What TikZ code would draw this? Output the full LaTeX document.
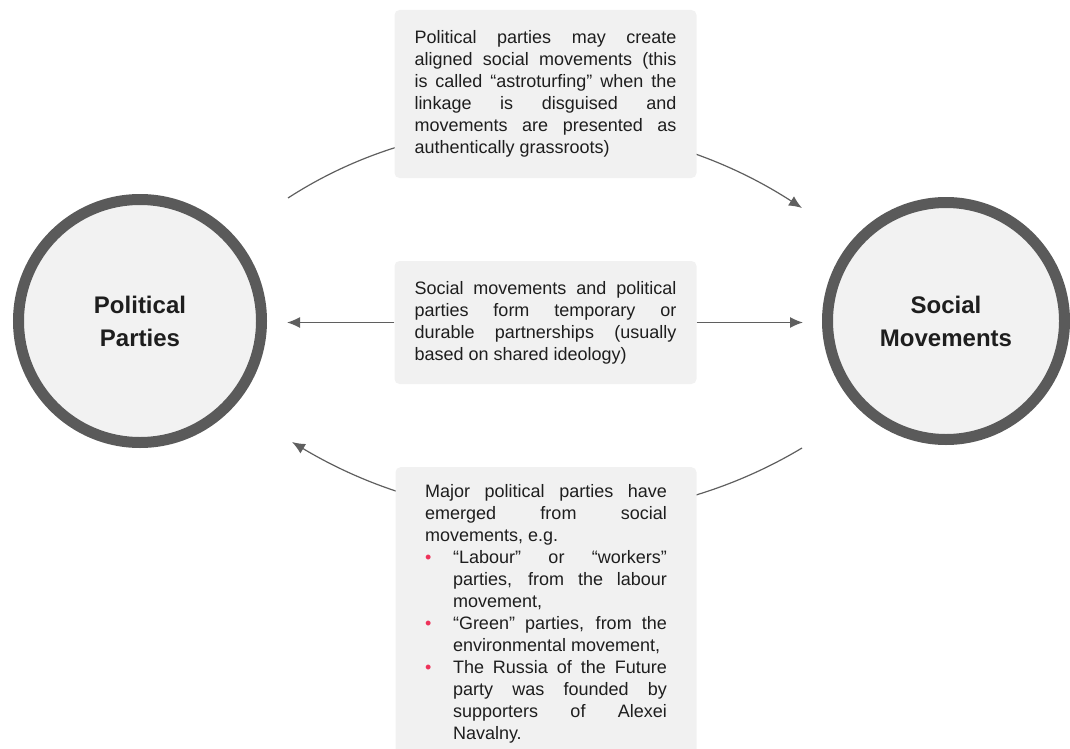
\documentclass[tikz,border=0pt]{standalone}
\usepackage{fontspec}
\setmainfont{Liberation Sans}
\usetikzlibrary{arrows.meta}
\definecolor{boxfill}{RGB}{241,241,241}
\definecolor{ringfill}{RGB}{242,242,242}
\definecolor{ringgray}{RGB}{90,90,90}
\definecolor{linegray}{RGB}{95,95,95}
\definecolor{textdark}{RGB}{30,30,30}
\definecolor{bulletred}{RGB}{238,50,90}
\newcommand{\dotitem}{\par\noindent\hangindent=28pt\hangafter=1\makebox[28pt][l]{\textcolor{bulletred}{\textbullet}}}
\tikzset{
  actor/.style={circle, draw=ringgray, fill=ringfill, line width=11pt, inner sep=0pt,
    text=textdark, align=center, font=\bfseries\fontsize{24}{33}\selectfont},
  infobox/.style={fill=boxfill, rounded corners=5pt, inner ysep=0pt, text=textdark,
    align=justify, font=\fontsize{18}{22}\selectfont},
  link/.style={draw=linegray, line width=1.2pt},
  linkhead/.style={link, -{Latex[length=13pt,width=11pt]}}
}
\begin{document}
\begin{tikzpicture}[x=1pt,y=1pt,yscale=-1,xscale=1]
\tolerance=10000 \hbadness=10000
\clip (0,0) rectangle (1070,749);
%Shape: Circle
\node[actor, minimum size=243pt] (pp) at (140,321) {Political\\Parties};
\node[actor, minimum size=237pt] (sm) at (946,321) {Social\\Movements};
%Curve Lines
\coordinate (tl) at (288,198);
\coordinate (tr) at (802,208);
\coordinate (br) at (802,448);
\coordinate (bl) at (292,442);
\draw[linkhead] (tl) .. controls (444,97) and (646,107) .. (tr);
\draw[linkhead] (br) .. controls (645,542) and (449,536) .. (bl);
%Text boxes
\node[infobox, text width=262pt, inner xsep=20pt, minimum height=168pt] (create) at (545.5,94)
  {Political parties may create\linebreak aligned social movements (this\linebreak is called “astroturfing” when the\linebreak linkage is disguised and\linebreak movements are presented as\linebreak authentically grassroots)};
\node[infobox, text width=262pt, inner xsep=20pt, minimum height=123pt] (partner) at (545.5,322.5)
  {Social movements and political\linebreak parties form temporary or\linebreak durable partnerships (usually\linebreak based on shared ideology)};
\node[infobox, text width=242pt, inner xsep=29.5pt, inner ysep=17pt, anchor=north] (emerge) at (546,467)
  {\noindent Major political parties have\linebreak emerged from social\linebreak movements, e.g.
  \dotitem “Labour” or “workers”\linebreak parties, from the labour\linebreak movement,
  \dotitem “Green” parties, from the\linebreak environmental movement,
  \dotitem The Russia of the Future\linebreak party was founded by\linebreak supporters of Alexei\linebreak Navalny.\par};
%Straight Lines
\draw[linkhead, shorten >=20pt] (partner.west) -- (partner.west -| pp.east);
\draw[linkhead, shorten >=19pt] (partner.east) -- (partner.east -| sm.west);
\end{tikzpicture}
\end{document}
